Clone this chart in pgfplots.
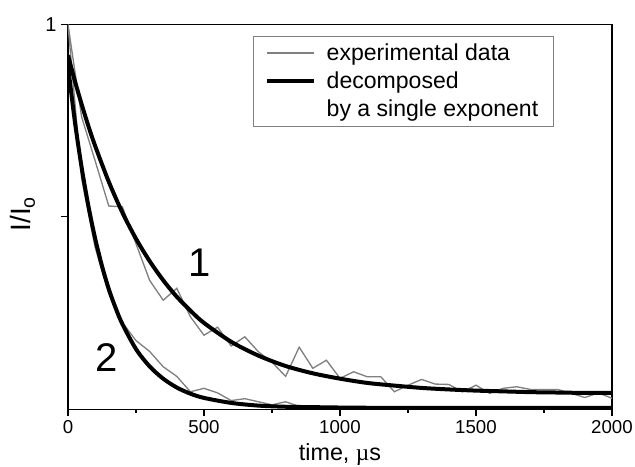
\documentclass[border=0pt]{standalone}
\usepackage{pgfplots}
\pgfplotsset{compat=1.18}
\usepackage{fontspec}
\setmainfont{Liberation Sans}
\newfontfamily\seriff{Liberation Serif}
\definecolor{datagray}{RGB}{128,128,128}
\begin{document}
\begin{tikzpicture}
\path[use as bounding box] (-51pt,-42.75pt) rectangle (425.25pt,306.8pt);
\begin{axis}[
  scale only axis, width=408pt, height=288.4pt,
  xmin=0, xmax=2000, ymin=0, ymax=1,
  xtick={0,500,1000,1500,2000}, minor xtick={250,750,1250,1750},
  ytick={0.5,1}, yticklabels={,1},
  tick align=outside, xtick pos=left, ytick pos=left,
  major tick length=5pt, minor tick length=3pt,
  axis line style={line width=0.8pt},
  every tick/.style={line width=0.8pt, black},
  /pgf/number format/assume math mode=true,
  /pgf/number format/1000 sep={},
  scaled x ticks=false,
  xticklabel style={font=\fontsize{14}{16}\selectfont},
  yticklabel style={font=\fontsize{15}{17}\selectfont},
  xlabel={time, {\seriff µ}s},
  xlabel style={font=\fontsize{17.5}{20}\selectfont, at={(axis description cs:0.5,-0.133)}, anchor=base},
  ylabel={I/I\textsubscript{o}},
  ylabel style={font=\fontsize{21}{24}\selectfont, at={(axis description cs:-0.083,0.507)}, anchor=center},
  legend style={at={(axis description cs:0.34,0.97)}, anchor=north west, draw=datagray, line width=0.6pt,
    font=\fontsize{17.3}{20}\selectfont, inner xsep=9pt, inner ysep=3.5pt, row sep=3pt,
    /tikz/every odd column/.append style={column sep=6pt}},
  legend cell align=left,
  legend image code/.code={\draw[#1] (0pt,0pt) -- (35pt,0pt);},
]
\addplot[datagray, line width=1pt] coordinates {
(0,1.00) (50,0.76) (100,0.645) (150,0.528) (200,0.526) (250,0.43) (300,0.335) (350,0.283) (400,0.314) (450,0.24)
(500,0.192) (550,0.213) (600,0.164) (650,0.188) (700,0.149) (750,0.122) (800,0.085) (850,0.161) (900,0.106) (950,0.127)
(1000,0.080) (1050,0.097) (1100,0.084) (1150,0.084) (1200,0.045) (1250,0.062) (1300,0.077) (1350,0.065) (1400,0.064) (1450,0.045)
(1500,0.062) (1550,0.041) (1600,0.054) (1650,0.058) (1700,0.051) (1750,0.051) (1800,0.051) (1850,0.041) (1900,0.030) (1950,0.042) (2000,0.028)
};
\addlegendentry{experimental data}
\addplot[datagray, line width=1pt, forget plot] coordinates {
(0,1.00) (50,0.60) (100,0.42) (150,0.30) (200,0.225) (250,0.178) (300,0.150) (350,0.110) (400,0.085) (450,0.045)
(500,0.054) (550,0.042) (600,0.022) (650,0.027) (700,0.019) (750,0.011) (800,0.019) (850,0.007) (900,0.005) (950,0.006)
(1000,0.004) (1050,0.006) (1100,0.005) (1150,0.003) (1200,0.004) (1250,0.006) (1300,0.004) (1350,0.003) (1400,0.004) (1450,0.002)
(1500,0.005) (1550,0.004) (1600,0.003) (1650,0.005) (1700,0.003) (1750,0.002) (1800,0.004) (1850,0.003) (1900,0.002) (1950,0.006) (2000,0.003)
};
\addplot[black, line width=3pt, smooth] coordinates {
(0,0.920) (25,0.854) (50,0.793) (75,0.736) (100,0.684) (150,0.591) (200,0.511) (250,0.443) (300,0.385) (350,0.335)
(400,0.292) (450,0.256) (500,0.224) (600,0.175) (700,0.139) (800,0.112) (900,0.093) (1000,0.079) (1100,0.068) (1200,0.061)
(1300,0.055) (1400,0.051) (1500,0.048) (1600,0.046) (1700,0.044) (1800,0.043) (1900,0.042) (2000,0.042)
};
\addlegendentry{decomposed}
\addplot[black, line width=3pt, smooth, forget plot] coordinates {
(0,0.893) (25,0.749) (50,0.629) (75,0.528) (100,0.443) (125,0.372) (150,0.312) (175,0.263) (200,0.221) (250,0.156)
(300,0.111) (350,0.079) (400,0.056) (450,0.040) (500,0.029) (600,0.016) (700,0.009) (800,0.006) (900,0.005) (1000,0.004)
(1200,0.003) (1500,0.003) (2000,0.003)
};
\addlegendimage{empty legend}
\addlegendentry{by a single exponent}
\node[font=\fontsize{30}{34}\selectfont] at (axis cs:485,0.38) {1};
\node[font=\fontsize{30}{34}\selectfont] at (axis cs:143,0.135) {2};
\end{axis}
\end{tikzpicture}
\end{document}
